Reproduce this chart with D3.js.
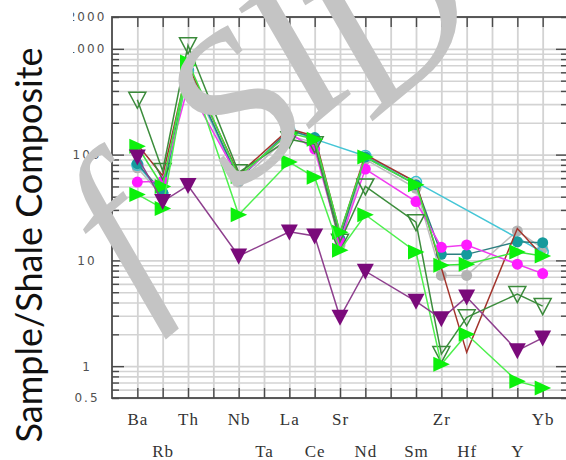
<!DOCTYPE html>
<html>
<head>
<meta charset="utf-8">
<script src="https://cdn.jsdelivr.net/npm/d3@7"></script>
<style>
  body { margin: 0; background: #fff; }
</style>
</head>
<body>
<script>
// element order along the x axis (K, P and Ti carry no label and no data)
const elements = ["Ba", "Rb", "Th", "K", "Nb", "Ta", "La", "Ce", "Sr", "Nd", "P", "Sm", "Zr", "Hf", "Ti", "Y", "Yb"];
const elementLabels = ["Ba", "Rb", "Th", "", "Nb", "Ta", "La", "Ce", "Sr", "Nd", "", "Sm", "Zr", "Hf", "", "Y", "Yb"];
const yLabels = [0.5, 1, 10, 100, 1000, 2000];

// sample / shale composite ratios, null = not analysed
const grayVals     = [75, 40, 600, null, 55, null, 150, 130, 14, 90, null, 48, 7.2, 7.2, null, 19, 13];
const cyanVals     = [80, 42, 620, null, 58, null, 172, 140, null, 97, null, 55, null, null, null, null, 12];
const tealVals     = [82, 44, 650, null, 58, null, 170, 145, 16, 95, null, 52, 11.4, 11.4, null, 15, 14.7];
const brownVals    = [125, 63, 700, null, 65, null, 175, 150, 18, 100, null, 55, 8.5, 1.35, null, 20, 11];
const magentaVals  = [55, 56, 440, null, 60, null, 160, 113, 15, 73, null, 36, 13.3, 14, null, 9.2, 7.5];
const openTriVals  = [330, 70, 1080, null, 68, null, 140, 125, 15, 50, null, 23, 1.3, 2.9, null, 4.8, 3.7];
const limeVals     = [120, 50, 750, null, 62, null, 160, 140, 18.5, 95, null, 52, 9, 9.2, null, 12, 11];
const limeLowVals  = [42, 31, 700, null, 27, null, 85, 61, 12.5, 27, null, 12, 1.04, 2.0, null, 0.72, 0.62];
const purpleVals   = [95, 36, 51, null, 11, null, 18.6, 17, 2.9, 7.9, null, 4.1, 2.8, 4.5, null, 1.4, 1.85];

const seriesList = [
  { values: grayVals,    line: "#bdbdbd", marker: "circle", fill: "#b3b3b3", stroke: "none" },
  { values: cyanVals,    line: "#45c6d6", marker: "circle", fill: "none",    stroke: "#3bbfd0" },
  { values: tealVals,    line: "#2d7f80", marker: "circle", fill: "#159a9c", stroke: "none" },
  { values: brownVals,   line: "#a3342c", marker: null },
  { values: magentaVals, line: "#f03cf0", marker: "circle", fill: "#ff1aff", stroke: "none" },
  { values: openTriVals, line: "#3c8d3c", marker: "down",   fill: "none",    stroke: "#3a8a3a" },
  { values: limeVals,    line: "#3ee43e", marker: "right",  fill: "#0cf00c", stroke: "none" },
  { values: limeLowVals, line: "#4ef04e", marker: "right",  fill: "#0cf00c", stroke: "none" },
  { values: purpleVals,  line: "#8e3f8e", marker: "down",   fill: "#7a0a7a", stroke: "none" }
];

// watermark letters and where their ink centres sit
const watermarkChars = ["f", "S", "I", "D"];
const watermarkAt = [[134, 240], [232, 108], [294, 51], [385, 20]];

const markerPaths = {
  right: "M-8,-7.5L8.5,0L-8,7.5Z",
  down: "M-8.5,-7.5L8.5,-7.5L0,8.5Z"
};

const margin = { top: 17, right: -2, bottom: 62, left: 112 },
  width = 566 - margin.left - margin.right,
  height = 460 - margin.top - margin.bottom;

const root = d3.select("body").append("svg")
  .attr("width", 566)
  .attr("height", 460);

const svg = root.append("g")
  .attr("transform", `translate(${margin.left}, ${margin.top})`);

const x = d3.scalePoint().domain(elements).range([0, width]).padding(1);
const y = d3.scaleLog().domain([0.5, 2000]).range([height, 0]);
const isMajor = (v) => Math.abs(Math.log10(v) - Math.round(Math.log10(v))) < 1e-9;

// grid
svg.append("g")
  .call(d3.axisLeft(y).tickValues(y.ticks()).tickSize(-width).tickFormat(""))
  .call(g => g.select(".domain").remove())
  .selectAll("line").attr("stroke", "#d3d3d3").attr("stroke-width", 1.6);

svg.append("g")
  .attr("transform", `translate(0, ${height})`)
  .call(d3.axisBottom(x).tickSize(-height).tickFormat(""))
  .call(g => g.select(".domain").remove())
  .selectAll("line").attr("stroke", "#d3d3d3").attr("stroke-width", 1.8);

// watermark: measure each glyph's ink box so it can be centred on its spot
const wmFont = "italic 210px 'Liberation Serif'";
const inkCentre = (ch) => {
  const c = document.createElement("canvas");
  c.width = 500; c.height = 500;
  const ctx = c.getContext("2d");
  ctx.font = wmFont;
  ctx.fillText(ch, 150, 350);
  const px = ctx.getImageData(0, 0, 500, 500).data;
  let x0 = 500, y0 = 500, x1 = 0, y1 = 0;
  for (let j = 0; j < 500; j++) {
    for (let i = 0; i < 500; i++) {
      if (px[(j * 500 + i) * 4 + 3] > 40) {
        if (i < x0) x0 = i;
        if (i > x1) x1 = i;
        if (j < y0) y0 = j;
        if (j > y1) y1 = j;
      }
    }
  }
  return [(x0 + x1) / 2 - 150, (y0 + y1) / 2 - 350];
};

const mark = root.append("g")
  .attr("fill", "#c4c4c4")
  .style("font-family", "'Liberation Serif', serif")
  .style("font-style", "italic")
  .style("font-size", "210px");
watermarkChars.forEach((ch, i) => {
  const [cx, cy] = inkCentre(ch);
  const [tx, ty] = watermarkAt[i];
  mark.append("text")
    .attr("transform", `translate(${tx}, ${ty}) rotate(-40) translate(${-cx}, ${-cy})`)
    .text(ch);
});

// axes: inward ticks on all four sides
const axisColor = "#4a4a4a";
const yTickAxis = (side) => svg.append("g")
  .attr("transform", side === "right" ? `translate(${width}, 0)` : null)
  .call((side === "right" ? d3.axisRight(y) : d3.axisLeft(y))
    .tickValues(y.ticks()).tickSize(-7).tickFormat(""))
  .call(g => g.select(".domain").remove())
  .call(g => g.selectAll("line")
    .attr("stroke", axisColor).attr("stroke-width", 1.4)
    .attr("x2", d => (isMajor(d) ? 12 : 7) * (side === "right" ? -1 : 1)));

yTickAxis("left");
yTickAxis("right");

svg.append("g")
  .call(d3.axisTop(x).tickSize(-10).tickFormat(""))
  .call(g => g.select(".domain").remove())
  .selectAll("line").attr("stroke", axisColor).attr("stroke-width", 1.4);

svg.append("g")
  .attr("transform", `translate(0, ${height})`)
  .call(d3.axisBottom(x).tickSize(-10).tickFormat(""))
  .call(g => g.select(".domain").remove())
  .selectAll("line").attr("stroke", axisColor).attr("stroke-width", 1.4);

svg.append("rect")
  .attr("width", width).attr("height", height)
  .attr("fill", "none")
  .attr("stroke", axisColor)
  .attr("stroke-width", 1.8);

// series
const valueLine = d3.line()
  .x(d => x(d.el))
  .y(d => y(d.v));

seriesList.forEach(s => {
  const pts = s.values
    .map((v, i) => ({ el: elements[i], v: v }))
    .filter(d => d.v != null);

  svg.append("path")
    .data([pts])
    .attr("fill", "none")
    .attr("stroke", s.line)
    .attr("stroke-width", 1.5)
    .attr("d", valueLine);

  if (!s.marker) return;
  const dots = svg.append("g").selectAll("dot")
    .data(pts)
    .enter();
  if (s.marker === "circle") {
    dots.append("circle")
      .attr("cx", d => x(d.el))
      .attr("cy", d => y(d.v))
      .attr("r", 5.5)
      .attr("fill", s.fill)
      .attr("stroke", s.stroke)
      .attr("stroke-width", 1.5);
  } else {
    dots.append("path")
      .attr("d", markerPaths[s.marker])
      .attr("transform", d => `translate(${x(d.el)}, ${y(d.v)})`)
      .attr("fill", s.fill)
      .attr("stroke", s.stroke)
      .attr("stroke-width", 1.5);
  }
});

// x labels in two staggered rows
svg.append("g")
  .attr("transform", `translate(0, ${height})`)
  .call(d3.axisBottom(x).tickSize(0).tickFormat((d, i) => elementLabels[i]))
  .call(g => g.select(".domain").remove())
  .selectAll("text")
  .attr("dy", 0)
  .attr("y", (d, i) => i % 2 ? 59 : 27)
  .attr("fill", "#333")
  .style("font-family", "'Liberation Serif', serif")
  .style("font-size", "17px")
  .style("letter-spacing", "1px");

// y labels
svg.append("g")
  .call(d3.axisLeft(y).tickValues(yLabels).tickSize(0).tickFormat(d => String(d)))
  .call(g => g.select(".domain").remove())
  .selectAll("text")
  .attr("x", -25)
  .attr("text-anchor", "middle")
  .attr("fill", "#505050")
  .style("font-family", "'DejaVu Sans', sans-serif")
  .style("font-size", "12px")
  .style("letter-spacing", "2px");

// title box covers the far left, as in the source figure
root.append("rect")
  .attr("x", 0).attr("y", 0)
  .attr("width", 73).attr("height", 460)
  .attr("fill", "#fff");

const title = root.append("text")
  .attr("transform", "translate(42, 245) rotate(-90)")
  .attr("text-anchor", "middle")
  .attr("fill", "#111")
  .style("font-family", "Lato, 'Open Sans', sans-serif")
  .style("font-size", "35px")
  .text("Sample/Shale Composite");
const titleLen = title.node().getComputedTextLength();
title.style("font-size", (35 * 395 / titleLen).toFixed(1) + "px");
</script>
</body>
</html>
